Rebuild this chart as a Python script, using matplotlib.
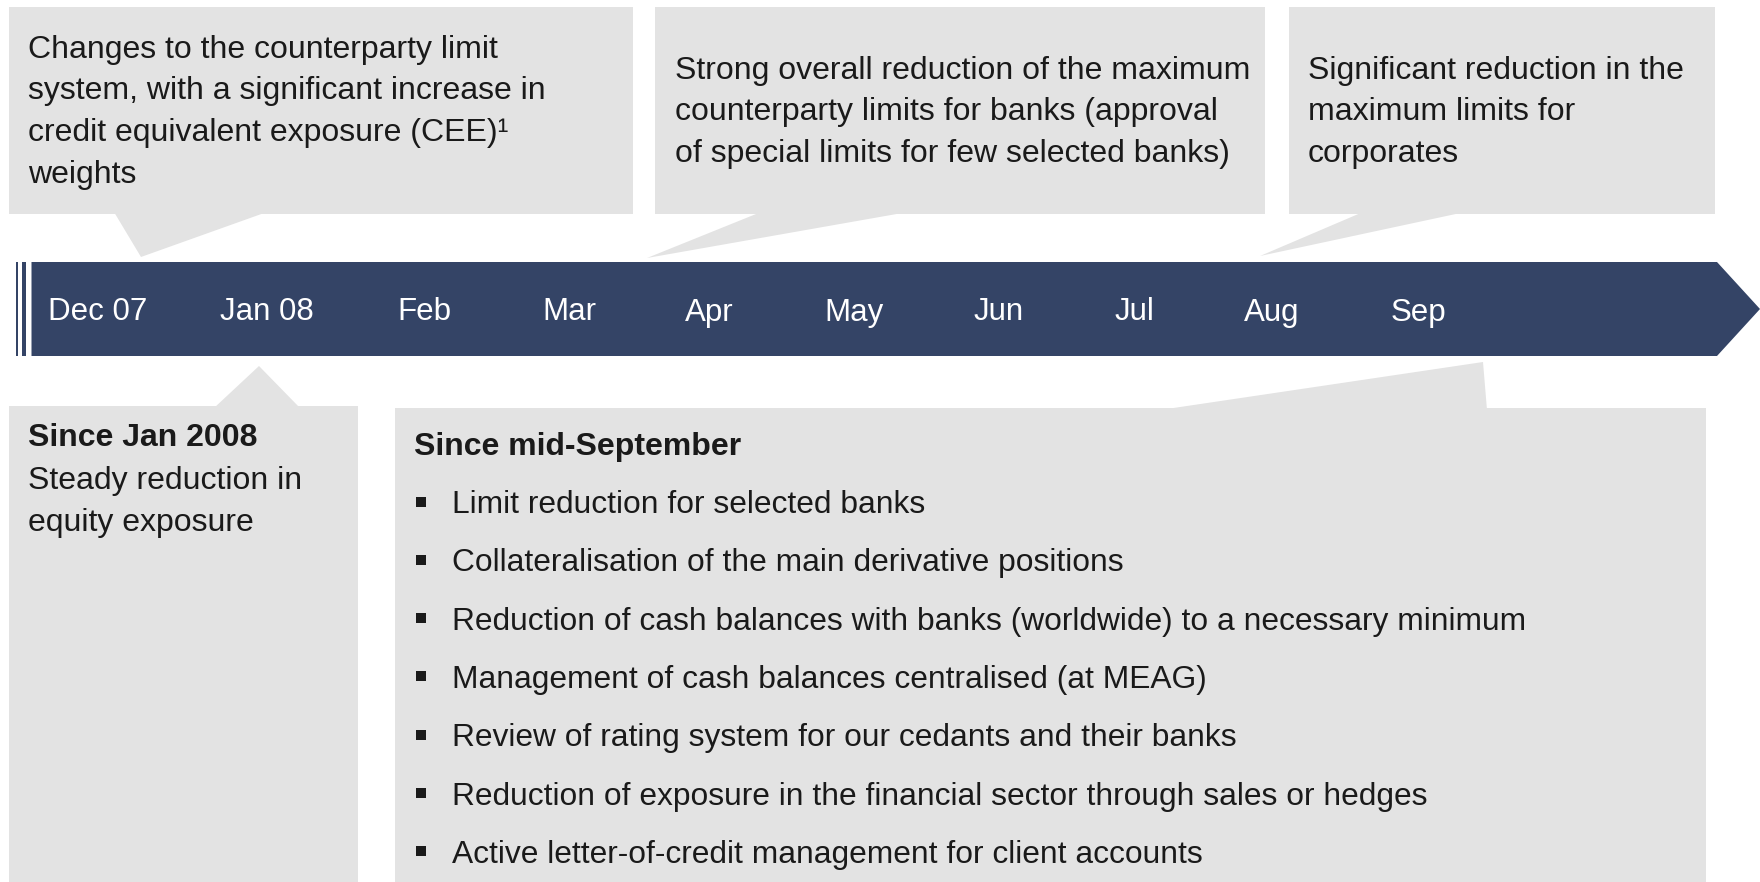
import matplotlib
matplotlib.use("Agg")
import matplotlib.pyplot as plt
from matplotlib.patches import Polygon, Rectangle

plt.rcParams['font.family'] = ['Liberation Sans', 'DejaVu Sans']

# timeline months
months = ["Dec 07", "Jan 08", "Feb", "Mar", "Apr", "May", "Jun", "Jul", "Aug", "Sep"]

# top callouts (one list of lines per box)
top_notes = [
    ["Changes to the counterparty limit",
     "system, with a significant increase in",
     "credit equivalent exposure (CEE)\u00b9",
     "weights"],
    ["Strong overall reduction of the maximum",
     "counterparty limits for banks (approval",
     "of special limits for few selected banks)"],
    ["Significant reduction in the",
     "maximum limits for",
     "corporates"],
]

left_title = "Since Jan 2008"
left_lines = ["Steady reduction in", "equity exposure"]

right_title = "Since mid-September"
right_bullets = [
    "Limit reduction for selected banks",
    "Collateralisation of the main derivative positions",
    "Reduction of cash balances with banks (worldwide) to a necessary minimum",
    "Management of cash balances centralised (at MEAG)",
    "Review of rating system for our cedants and their banks",
    "Reduction of exposure in the financial sector through sales or hedges",
    "Active letter-of-credit management for client accounts",
]

# layout (pixel space, y down)
W, H = 1760, 882
navy = "#344466"
grey = "#e3e3e3"
ink = "#1a1a1a"
month_x = [48, 220, 397, 542, 685, 824, 974, 1115, 1244, 1391]
top_boxes = [(9, 633), (655, 1265), (1289, 1715)]
top_text_x = [28, 675, 1308]
top_ptrs = [[(114, 212), (141, 257), (267, 212)],
            [(761, 212), (647, 258), (908, 212)],
            [(1363, 212), (1260, 256), (1465, 212)]]

fig = plt.figure(figsize=(17.6, 8.82), dpi=100)
ax = fig.add_axes([0, 0, 1, 1])
ax.set_xlim(0, W)
ax.set_ylim(H, 0)
ax.axis('off')

# top boxes
for (x0, x1), ptr, tx, lines in zip(top_boxes, top_ptrs, top_text_x, top_notes):
    ax.add_patch(Rectangle((x0, 7), x1 - x0, 207, color=grey, lw=0))
    ax.add_patch(Polygon(ptr, closed=True, color=grey, lw=0))
    n = len(lines)
    for i, ln in enumerate(lines):
        ax.text(tx, 120.3 + (i - (n - 1) / 2) * 41.8, ln, fontsize=23, color=ink,
                ha='left', va='baseline')

# timeline bar
ax.add_patch(Polygon([(31.5, 262), (1717, 262), (1760, 309), (1717, 356), (31.5, 356)],
                     closed=True, color=navy, lw=0))
ax.add_patch(Rectangle((16, 262), 2, 94, color=navy, lw=0))
ax.add_patch(Rectangle((22, 262), 4, 94, color=navy, lw=0))
for x, m in zip(month_x, months):
    ax.text(x, 320.5, m, fontsize=22.5, color='white', ha='left', va='baseline')

# bottom-left box
ax.add_patch(Rectangle((9, 406), 349, H - 406, color=grey, lw=0))
ax.add_patch(Polygon([(214, 408), (259, 366), (300, 408)], closed=True, color=grey, lw=0))
ax.text(28, 445.5, left_title, fontsize=23, fontweight='bold', color=ink, va='baseline')
for i, ln in enumerate(left_lines):
    ax.text(28, 489.5 + i * 42, ln, fontsize=23, color=ink, va='baseline')

# bottom-right box
ax.add_patch(Rectangle((395, 408), 1311, H - 408, color=grey, lw=0))
ax.add_patch(Polygon([(1160, 410), (1483, 362), (1487, 410)], closed=True, color=grey, lw=0))
ax.text(414, 455.5, right_title, fontsize=23, fontweight='bold', color=ink, va='baseline')
by = [513 + i * 58.3 for i in range(len(right_bullets))]
ax.scatter([421] * len(right_bullets), [y - 11.5 for y in by], marker='s', s=50,
           color=ink, lw=0)
for y, b in zip(by, right_bullets):
    ax.text(452, y, b, fontsize=22.9, color=ink, va='baseline')

fig.savefig("out.png", dpi=100)
